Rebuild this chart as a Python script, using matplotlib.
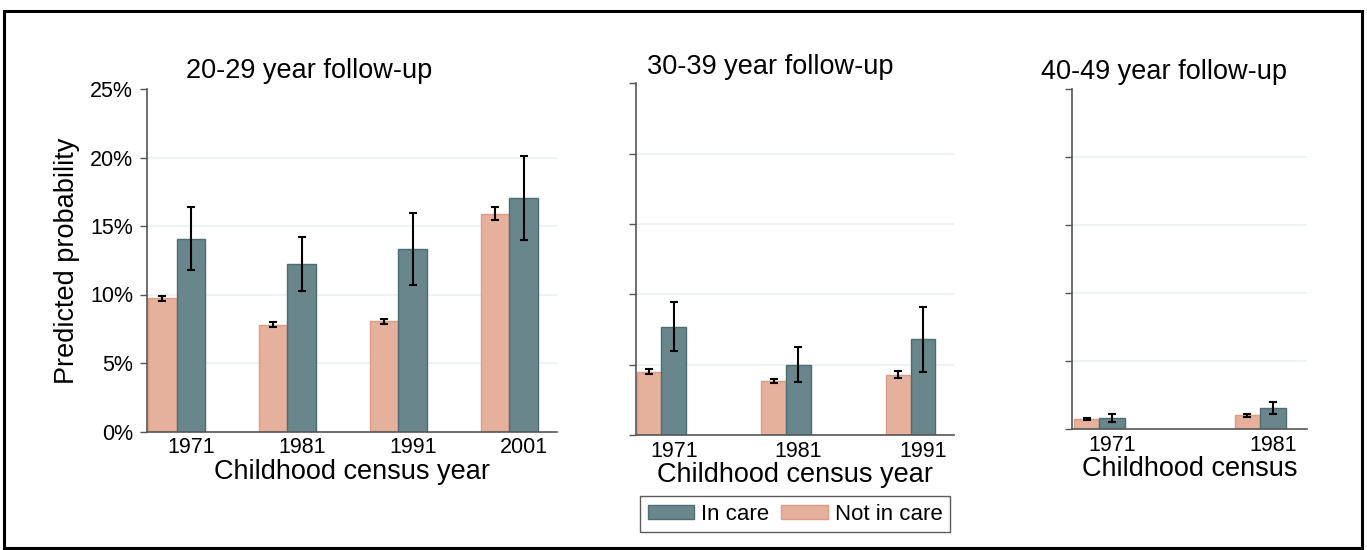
import numpy as np
import matplotlib
matplotlib.use("Agg")
import matplotlib.pyplot as plt
from matplotlib.patches import Rectangle, Patch
from matplotlib.ticker import FuncFormatter

plt.rcParams['font.family'] = ['Liberation Sans', 'DejaVu Sans']

# Predicted probability (%) by childhood census year, three follow-up windows
titles = ["20-29 year follow-up", "30-39 year follow-up", "40-49 year follow-up"]
xlabels = ["Childhood census year", "Childhood census year", "Childhood census"]

years_2029 = ["1971", "1981", "1991", "2001"]
notcare_2029 = [9.73, 7.81, 8.03, 15.86]
notcare_2029_lo = [9.56, 7.64, 7.86, 15.42]
notcare_2029_hi = [9.92, 7.98, 8.20, 16.37]
care_2029 = [14.08, 12.21, 13.30, 17.02]
care_2029_lo = [11.79, 10.29, 10.68, 13.96]
care_2029_hi = [16.39, 14.18, 15.93, 20.09]

years_3039 = ["1971", "1981", "1991"]
notcare_3039 = [4.50, 3.84, 4.27]
notcare_3039_lo = [4.34, 3.70, 4.03]
notcare_3039_hi = [4.67, 3.98, 4.55]
care_3039 = [7.68, 5.00, 6.80]
care_3039_lo = [5.97, 3.77, 4.45]
care_3039_hi = [9.43, 6.28, 9.12]

years_4049 = ["1971", "1981"]
notcare_4049 = [0.73, 1.03]
notcare_4049_lo = [0.66, 0.93]
notcare_4049_hi = [0.81, 1.10]
care_4049 = [0.81, 1.54]
care_4049_lo = [0.51, 1.10]
care_4049_hi = [1.10, 2.03]

PINK = "#E5B09C"
PINK_EDGE = "#DC9C86"
TEAL = "#68868C"
TEAL_EDGE = "#4D6D75"
GRID = "#EAF1F2"
SPINE = "#555555"

W, H = 1367, 550
fig = plt.figure(figsize=(W / 100, H / 100), dpi=100)


def px_axes(left, top, right, bottom):
    return fig.add_axes([left / W, 1 - bottom / H, (right - left) / W, (bottom - top) / H])


panels = [
    dict(box=(147, 89, 557, 431.5), width=0.259, xlim=(-0.266, 3.43),
         years=years_2029, nc=notcare_2029, nc_lo=notcare_2029_lo, nc_hi=notcare_2029_hi,
         c=care_2029, c_lo=care_2029_lo, c_hi=care_2029_hi, ylabels=True,
         title_xy=(309, 71), xlabel_y=479, xlabel_x=352),
    dict(box=(635.5, 83.3, 953.5, 435), width=0.199, xlim=(-0.208, 2.344),
         years=years_3039, nc=notcare_3039, nc_lo=notcare_3039_lo, nc_hi=notcare_3039_hi,
         c=care_3039, c_lo=care_3039_lo, c_hi=care_3039_hi, ylabels=False,
         title_xy=(770, 67), xlabel_y=482, xlabel_x=795),
    dict(box=(1072, 89.3, 1306.7, 429.3), width=0.159, xlim=(-0.170, 1.29),
         years=years_4049, nc=notcare_4049, nc_lo=notcare_4049_lo, nc_hi=notcare_4049_hi,
         c=care_4049, c_lo=care_4049_lo, c_hi=care_4049_hi, ylabels=False,
         title_xy=(1164, 72), xlabel_y=476, xlabel_x=1190),
]

for i, p in enumerate(panels):
    ax = px_axes(*p["box"])
    x = np.arange(len(p["years"]))
    w = p["width"]
    nc = np.array(p["nc"])
    c = np.array(p["c"])

    ax.bar(x - w / 2, nc, w, color=PINK, edgecolor=PINK_EDGE, linewidth=1, zorder=2)
    ax.bar(x + w / 2, c, w, color=TEAL, edgecolor=TEAL_EDGE, linewidth=1, zorder=2)

    nc_err = [nc - np.array(p["nc_lo"]), np.array(p["nc_hi"]) - nc]
    c_err = [c - np.array(p["c_lo"]), np.array(p["c_hi"]) - c]
    ax.errorbar(x - w / 2, nc, yerr=nc_err, fmt="none", ecolor="black",
                elinewidth=1.5, capsize=3.2, capthick=1.5, zorder=3)
    ax.errorbar(x + w / 2, c, yerr=c_err, fmt="none", ecolor="black",
                elinewidth=1.5, capsize=3.2, capthick=1.5, zorder=3)

    ax.set_xlim(*p["xlim"])
    ax.set_ylim(0, 25)
    ax.set_yticks([0, 5, 10, 15, 20, 25])
    for g in [5, 10, 15, 20]:
        ax.axhline(g, color=GRID, linewidth=1.2, zorder=0)

    # year labels sit under the in-care bar of each pair
    ax.set_xticks(x + w / 2)
    ax.set_xticklabels(p["years"], fontsize=15.5)
    ax.tick_params(axis="x", length=0, pad=4)
    ax.tick_params(axis="y", length=5, width=1, color=SPINE, direction="out", pad=5, labelsize=15.5)
    if p["ylabels"]:
        ax.yaxis.set_major_formatter(FuncFormatter(lambda v, pos: f"{v:.0f}%"))
    else:
        ax.set_yticklabels([])

    for side in ["top", "right"]:
        ax.spines[side].set_visible(False)
    for side in ["left", "bottom"]:
        ax.spines[side].set_color(SPINE)
        ax.spines[side].set_linewidth(1.2)

    tx, ty = p["title_xy"]
    fig.text(tx / W, 1 - ty / H, titles[i], fontsize=19.5, ha="center", va="center")
    fig.text(p["xlabel_x"] / W, 1 - p["xlabel_y"] / H, xlabels[i], fontsize=19.5,
             ha="center", va="baseline")

fig.text(67 / W, 1 - 261 / H, "Predicted probability", fontsize=19.5,
         rotation=90, ha="center", va="center")

handles = [Patch(facecolor=TEAL, edgecolor=TEAL_EDGE, label="In care"),
           Patch(facecolor=PINK, edgecolor=PINK_EDGE, label="Not in care")]
leg = fig.legend(handles=handles, loc="center", bbox_to_anchor=(795 / W, 1 - 514 / H),
                 ncol=2, fontsize=16, frameon=True, fancybox=False,
                 handlelength=2.1, handleheight=0.6, handletextpad=0.3,
                 columnspacing=0.55, borderpad=0.35, borderaxespad=0)
leg.get_frame().set_edgecolor("#333333")
leg.get_frame().set_linewidth(1.0)

# outer frame around the whole graph
fig.patches.append(Rectangle((4 / W, 1 - 548 / H), (1362 - 4) / W, (548 - 11) / H,
                             transform=fig.transFigure, fill=False,
                             edgecolor="black", linewidth=2.2))

fig.savefig("out.png", dpi=100, facecolor="white")
